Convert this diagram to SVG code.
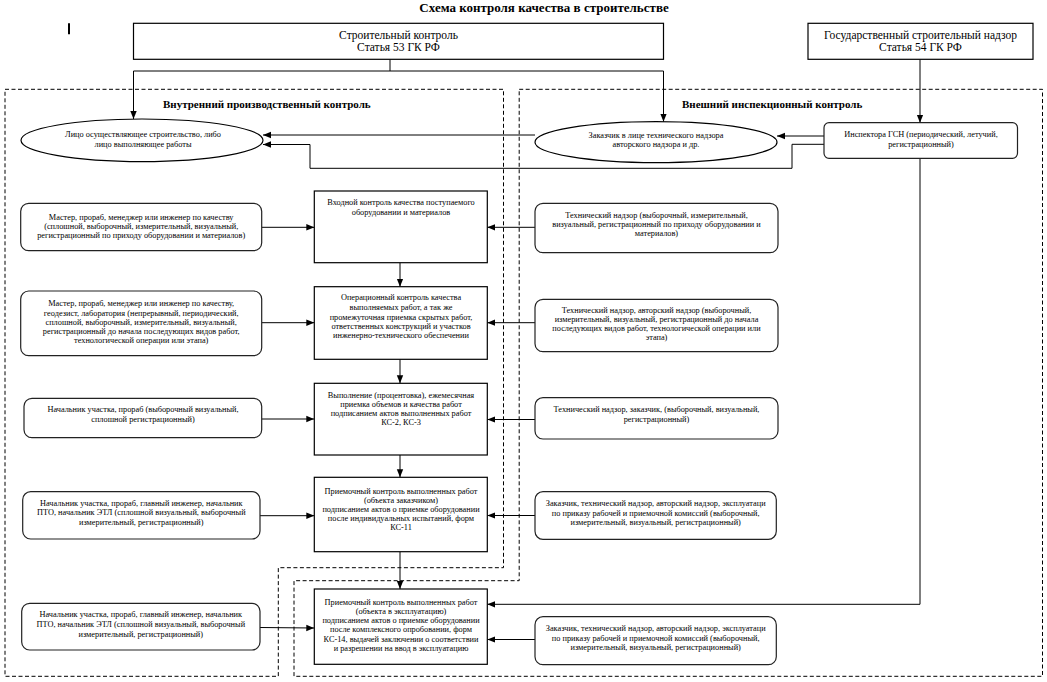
<svg xmlns="http://www.w3.org/2000/svg" width="1047" height="682" viewBox="0 0 1047 682">
<style>
.t{font-family:"Liberation Serif","Times New Roman",serif;font-size:8.3px;fill:#000;text-anchor:middle}
.tb{font-family:"Liberation Serif","Times New Roman",serif;font-size:11.5px;fill:#000;text-anchor:middle}
.h{font-family:"Liberation Serif","Times New Roman",serif;font-size:11px;font-weight:bold;fill:#000}
.title{font-family:"Liberation Serif","Times New Roman",serif;font-size:13px;font-weight:bold;fill:#000;text-anchor:middle}
.box{fill:#fff;stroke:#000;stroke-width:1.2}
.rbox{fill:#fff;stroke:#222;stroke-width:1.2}
.zone{fill:none;stroke:#000;stroke-width:1;stroke-dasharray:4,2.5}
.c{fill:none;stroke:#000;stroke-width:1}
.ca{fill:none;stroke:#000;stroke-width:1;marker-end:url(#arr)}
</style>
<defs>
<marker id="arr" markerUnits="userSpaceOnUse" markerWidth="8" markerHeight="8" viewBox="0 0 8 8" refX="8" refY="4" orient="auto">
<path d="M0,0.8 L8,4 L0,7.2 Z" fill="#000"/>
</marker>
</defs>
<rect width="1047" height="682" fill="#fff"/>
<text class="title" x="544" y="11.5">Схема контроля качества в строительстве</text>
<line x1="69" y1="23.3" x2="69" y2="34.3" stroke="#000" stroke-width="2"/>

<g id="zones">
<path class="zone" d="M5,89.3 H503.5 V567.7 H278.3 V676.3 H5 Z"/>
<path class="zone" d="M519.2,89.3 H1042.5 V676.3 H294 V580.7 H519.2 Z"/>
<text class="h" x="163" y="108">Внутренний производственный контроль</text>
<text class="h" x="682" y="108">Внешний инспекционный контроль</text>
</g>

<g id="connectors">
<path class="c" d="M390,59.3 V71 M133.5,71 H663.5"/>
<path class="ca" d="M133.5,71 V119"/>
<path class="ca" d="M663.5,71 V121.7"/>
<path class="ca" d="M920,59.3 V122.7"/>
<path class="ca" d="M824,136 H777"/>
<path class="ca" d="M535,135 H263"/>
<path class="ca" d="M824,144.3 H792 V168.3 H310 V144.5 H263"/>
<path class="ca" d="M920,158.3 V604.3 H487.3"/>
<path class="ca" d="M262,227.3 H314.3"/>
<path class="ca" d="M262,322.7 H314.3"/>
<path class="ca" d="M262,419 H314.3"/>
<path class="ca" d="M260,515.7 H314.3"/>
<path class="ca" d="M260,627.5 L314.3,628"/>
<path class="ca" d="M535,227.3 H487.3"/>
<path class="ca" d="M535,322.7 H487.3"/>
<path class="ca" d="M535,419.5 H487.3"/>
<path class="ca" d="M535,515.5 H487.3"/>
<path class="ca" d="M535,639.5 H487.3"/>
<path class="ca" d="M400,262.7 V286.7"/>
<path class="ca" d="M400,359.3 V383.3"/>
<path class="ca" d="M400,455 V477.3"/>
<path class="ca" d="M400,551.7 V589"/>
</g>

<g id="n-stroy">
<rect class="box" x="133.5" y="23.3" width="530" height="36"/>
<text class="tb" x="398.5" y="39">Строительный контроль</text>
<text class="tb" x="398.5" y="50.5">Статья 53 ГК РФ</text>
</g>
<g id="n-gsn">
<rect class="box" x="808" y="23.3" width="225" height="36"/>
<text class="tb" x="920.5" y="39">Государственный строительный надзор</text>
<text class="tb" x="920.5" y="50.5">Статья 54 ГК РФ</text>
</g>

<g id="n-lico">
<ellipse class="box" cx="142" cy="140.3" rx="121" ry="21.3"/>
<text class="t" x="143" y="137">Лицо осуществляющее строительство, либо</text>
<text class="t" x="143" y="147.3">лицо выполняющее работы</text>
</g>
<g id="n-zakazchik">
<ellipse class="box" cx="656" cy="142.2" rx="121" ry="20.5"/>
<text class="t" x="656" y="138">Заказчик в лице технического надзора</text>
<text class="t" x="656" y="147.3">авторского надзора и др.</text>
</g>
<g id="n-inspector">
<rect class="rbox" x="824" y="122.7" width="193.5" height="35.6" rx="5"/>
<text class="t" x="921" y="137">Инспектора ГСН (периодический, летучий,</text>
<text class="t" x="921" y="147">регистрационный)</text>
</g>

<g id="n-l1">
<rect class="rbox" x="20.7" y="203.3" width="241" height="47.4" rx="8"/>
<text class="t" x="141.2" y="219.7">Мастер, прораб, менеджер или инженер по качеству</text>
<text class="t" x="141.2" y="228.7">(сплошной, выборочный, измерительный, визуальный,</text>
<text class="t" x="141.2" y="238">регистрационный по приходу оборудовании и материалов)</text>
</g>
<g id="n-l2">
<rect class="rbox" x="20.7" y="291" width="241" height="64.7" rx="8"/>
<text class="t" x="141.2" y="306.3">Мастер, прораб, менеджер или инженер по качеству,</text>
<text class="t" x="141.2" y="315.7">геодезист, лаборатория (непрерывный, периодический,</text>
<text class="t" x="141.2" y="324.7">сплошной, выборочный, измерительный, визуальный,</text>
<text class="t" x="141.2" y="333.7">регистрационный до начала последующих видов работ,</text>
<text class="t" x="141.2" y="343">технологической операции или этапа)</text>
</g>
<g id="n-l3">
<rect class="rbox" x="24" y="398.3" width="237.7" height="39.4" rx="8"/>
<text class="t" x="143" y="412.3">Начальник участка, прораб (выборочный визуальный,</text>
<text class="t" x="143" y="422">сплошной регистрационный)</text>
</g>
<g id="n-l4">
<rect class="rbox" x="22.7" y="491.7" width="237.3" height="47.3" rx="8"/>
<text class="t" x="141.3" y="505.7">Начальник участка, прораб, главный инженер, начальник</text>
<text class="t" x="141.3" y="514.7">ПТО, начальник ЭТЛ (сплошной визуальный, выборочный</text>
<text class="t" x="141.3" y="524.5">измерительный, регистрационный)</text>
</g>
<g id="n-l5">
<rect class="rbox" x="21.7" y="603.3" width="238.3" height="46.7" rx="8"/>
<text class="t" x="140.8" y="617.3">Начальник участка, прораб, главный инженер, начальник</text>
<text class="t" x="140.8" y="626.7">ПТО, начальник ЭТЛ (сплошной визуальный, выборочный</text>
<text class="t" x="140.8" y="636.5">измерительный, регистрационный)</text>
</g>

<g id="n-c1">
<rect class="box" x="314.3" y="191" width="173" height="71.7"/>
<text class="t" x="401" y="205.3">Входной контроль качества поступаемого</text>
<text class="t" x="401" y="214.7">оборудовании и материалов</text>
</g>
<g id="n-c2">
<rect class="box" x="314.3" y="286.7" width="173" height="72.6"/>
<text class="t" x="401" y="300.3">Операционный контроль качества</text>
<text class="t" x="401" y="310">выполняемых работ, а так же</text>
<text class="t" x="401" y="319.5">промежуточная приемка скрытых работ,</text>
<text class="t" x="401" y="328.8">ответственных конструкций и участков</text>
<text class="t" x="401" y="338">инженерно-технического обеспечении</text>
</g>
<g id="n-c3">
<rect class="box" x="314.3" y="383.3" width="173" height="71.7"/>
<text class="t" x="401" y="398">Выполнение  (процентовка), ежемесячная</text>
<text class="t" x="401" y="407">приемка объемов и качества работ</text>
<text class="t" x="401" y="416.3">подписанием актов выполненных работ</text>
<text class="t" x="401" y="425.3">КС-2, КС-3</text>
</g>
<g id="n-c4">
<rect class="box" x="314.3" y="477.3" width="173" height="74.4"/>
<text class="t" x="401" y="493.7">Приемочный контроль выполненных работ</text>
<text class="t" x="401" y="502.5">(объекта заказчиком)</text>
<text class="t" x="401" y="511.5">подписанием актов о приемке оборудовании</text>
<text class="t" x="401" y="520.5">после индивидуальных испытаний, форм</text>
<text class="t" x="401" y="529.7">КС-11</text>
</g>
<g id="n-c5">
<rect class="box" x="314.3" y="589" width="173" height="75.3"/>
<text class="t" x="401" y="604.7">Приемочный контроль выполненных работ</text>
<text class="t" x="401" y="613.7">(объекта в эксплуатацию)</text>
<text class="t" x="401" y="623">подписанием актов о приемке оборудовании</text>
<text class="t" x="401" y="632.3">после комплексного опробовании, форм</text>
<text class="t" x="401" y="641.5">КС-14, выдачей заключении о соответствии</text>
<text class="t" x="401" y="650.7">и разрешении на ввод в эксплуатацию</text>
</g>

<g id="n-r1">
<rect class="rbox" x="535" y="203.3" width="243" height="49.4" rx="8"/>
<text class="t" x="656.5" y="218">Технический надзор (выборочный,  измерительный,</text>
<text class="t" x="656.5" y="227">визуальный, регистрационный по приходу  оборудовании и</text>
<text class="t" x="656.5" y="236.3">материалов)</text>
</g>
<g id="n-r2">
<rect class="rbox" x="535" y="299.3" width="243" height="52.4" rx="8"/>
<text class="t" x="656.5" y="313">Технический надзор, авторский надзор (выборочный,</text>
<text class="t" x="656.5" y="322">измерительный, визуальный, регистрационный до начала</text>
<text class="t" x="656.5" y="331.3">последующих видов работ, технологической операции или</text>
<text class="t" x="656.5" y="340.3">этапа)</text>
</g>
<g id="n-r3">
<rect class="rbox" x="535" y="397.7" width="243" height="41.3" rx="8"/>
<text class="t" x="656.5" y="412.3">Технический надзор, заказчик, (выборочный, визуальный,</text>
<text class="t" x="656.5" y="422.3">регистрационный)</text>
</g>
<g id="n-r4">
<rect class="rbox" x="535" y="491.7" width="241.3" height="47.6" rx="8"/>
<text class="t" x="655.7" y="506.3">Заказчик, технический надзор, авторский надзор, эксплуатаци</text>
<text class="t" x="655.7" y="515.7">по приказу рабочей и приемочной  комиссий (выборочный,</text>
<text class="t" x="655.7" y="525.3">измерительный, визуальный, регистрационный)</text>
</g>
<g id="n-r5">
<rect class="rbox" x="535" y="616.7" width="241.3" height="48" rx="8"/>
<text class="t" x="655.7" y="631.3">Заказчик, технический надзор, авторский надзор, эксплуатаци</text>
<text class="t" x="655.7" y="640.7">по приказу рабочей и приемочной  комиссий (выборочный,</text>
<text class="t" x="655.7" y="650.3">измерительный, визуальный, регистрационный)</text>
</g>
</svg>
